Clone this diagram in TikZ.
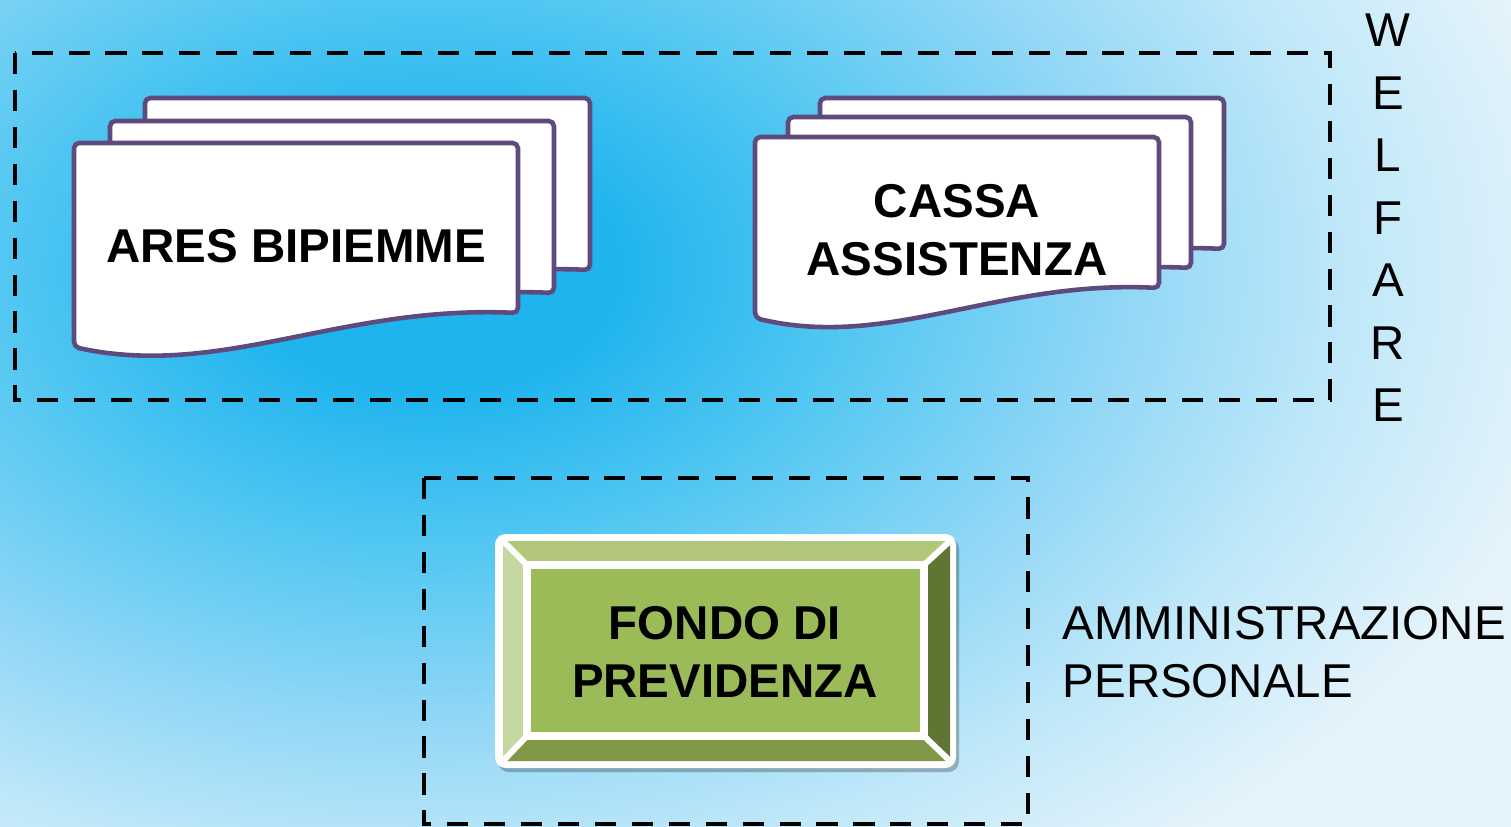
\documentclass[tikz,border=0pt]{standalone}
\usepackage{fontspec}
\setmainfont{Liberation Sans}
\usepackage{xcolor}
\usepackage{tikz}
\usetikzlibrary{positioning}

\definecolor{glowA}{RGB}{31,180,238}
\definecolor{glowB}{RGB}{85,200,242}
\definecolor{glowC}{RGB}{145,215,246}
\definecolor{glowD}{RGB}{192,232,249}
\definecolor{glowE}{RGB}{228,243,250}
\definecolor{sheetpurple}{RGB}{94,74,124}
\definecolor{faceG}{RGB}{155,187,89}
\definecolor{bevTop}{RGB}{177,200,123}
\definecolor{bevLeft}{RGB}{196,215,160}
\definecolor{bevRight}{RGB}{95,117,52}
\definecolor{bevBot}{RGB}{127,151,71}

\pgfdeclareradialshading{bgglow}{\pgfpoint{0bp}{0bp}}{%
  color(0bp)=(glowA); color(4bp)=(glowA); color(9.5bp)=(glowB);
  color(15bp)=(glowC); color(20bp)=(glowD); color(25bp)=(glowE); color(50bp)=(glowE)}

\tikzset{
    sheetline/.style = {draw=sheetpurple, line width=1.3pt, fill=white, rounded corners=1.5pt},
    groupbox/.style = {draw=black, line width=1.3pt, dash pattern=on 6pt off 4.5pt},
    docname/.style = {align=center, inner sep=0pt, font=\bfseries\fontsize{13.5}{16.5}\selectfont},
    sidename/.style = {inner sep=0pt, font=\fontsize{13.5}{16.4}\selectfont},
}

% one page of a stack: left, top, right, height at right, height at left
\newcommand{\sheet}[5]{%
  \draw[sheetline] (#1,#2) -- (#3,#2) -- (#3,#2+#4)
    .. controls ({#1+0.6*(#3-#1)},{#2+#4-8}) and ({#1+0.33*(#3-#1)},{#2+#5+32}) .. (#1,#2+#5) -- cycle;}

\begin{document}
\begin{tikzpicture}[x=0.01cm, y=-0.01cm]
  \useasboundingbox (0,0) rectangle (1511,827);
  \begin{scope}
    \clip (0,0) rectangle (1511,827);
    \fill[glowE] (0,0) rectangle (1511,827);
    \shade[shading=bgglow] (430,270) ellipse [x radius=11.5cm, y radius=7.5cm];
  \end{scope}

  % group frames
  \draw[groupbox] (15,53) rectangle (1330,400);
  \draw[groupbox] (424,478) rectangle (1028,824);

  % ares stack
  \sheet{145}{98}{590}{172}{204}
  \sheet{110}{121}{554}{172}{204}
  \sheet{74}{143}{518}{170}{204}
  \node[docname] (ares) at (296,246) {ARES BIPIEMME};

  % cassa stack
  \sheet{820}{98}{1224}{151}{181}
  \sheet{788}{117}{1191}{151}{181}
  \sheet{755}{137}{1159}{151}{181}
  \node[docname] (cassa) at (957,230) {CASSA\\ASSISTENZA};

  % fondo bevel
  \fill[black, opacity=0.25, rounded corners=3pt] (498,538) rectangle (959,772);
  \fill[white, rounded corners=3pt] (495,534) rectangle (956,768);
  \fill[bevTop] (503,541) -- (950,541) -- (924,565) -- (527,565) -- cycle;
  \fill[bevLeft] (503,541) -- (527,565) -- (527,736) -- (503,761) -- cycle;
  \fill[bevRight] (950,541) -- (950,761) -- (924,736) -- (924,565) -- cycle;
  \fill[bevBot] (503,761) -- (527,736) -- (924,736) -- (950,761) -- cycle;
  \fill[faceG] (527,565) rectangle (924,736);
  \draw[white, line width=2pt] (527,565) rectangle (924,736);
  \draw[white, line width=1.7pt] (503,541) -- (527,565) (950,541) -- (924,565)
    (503,761) -- (527,736) (950,761) -- (924,736);
  \node[docname] (fondo) at (725,652) {FONDO DI\\PREVIDENZA};

  % side labels
  \node[sidename, align=center, font=\fontsize{13.5}{17.76}\selectfont] (welfare) at (1388,218) {W\\E\\L\\F\\A\\R\\E};
  \node[sidename, align=left, anchor=west] (ammin) at (1062,652) {AMMINISTRAZIONE\\PERSONALE};
\end{tikzpicture}
\end{document}
